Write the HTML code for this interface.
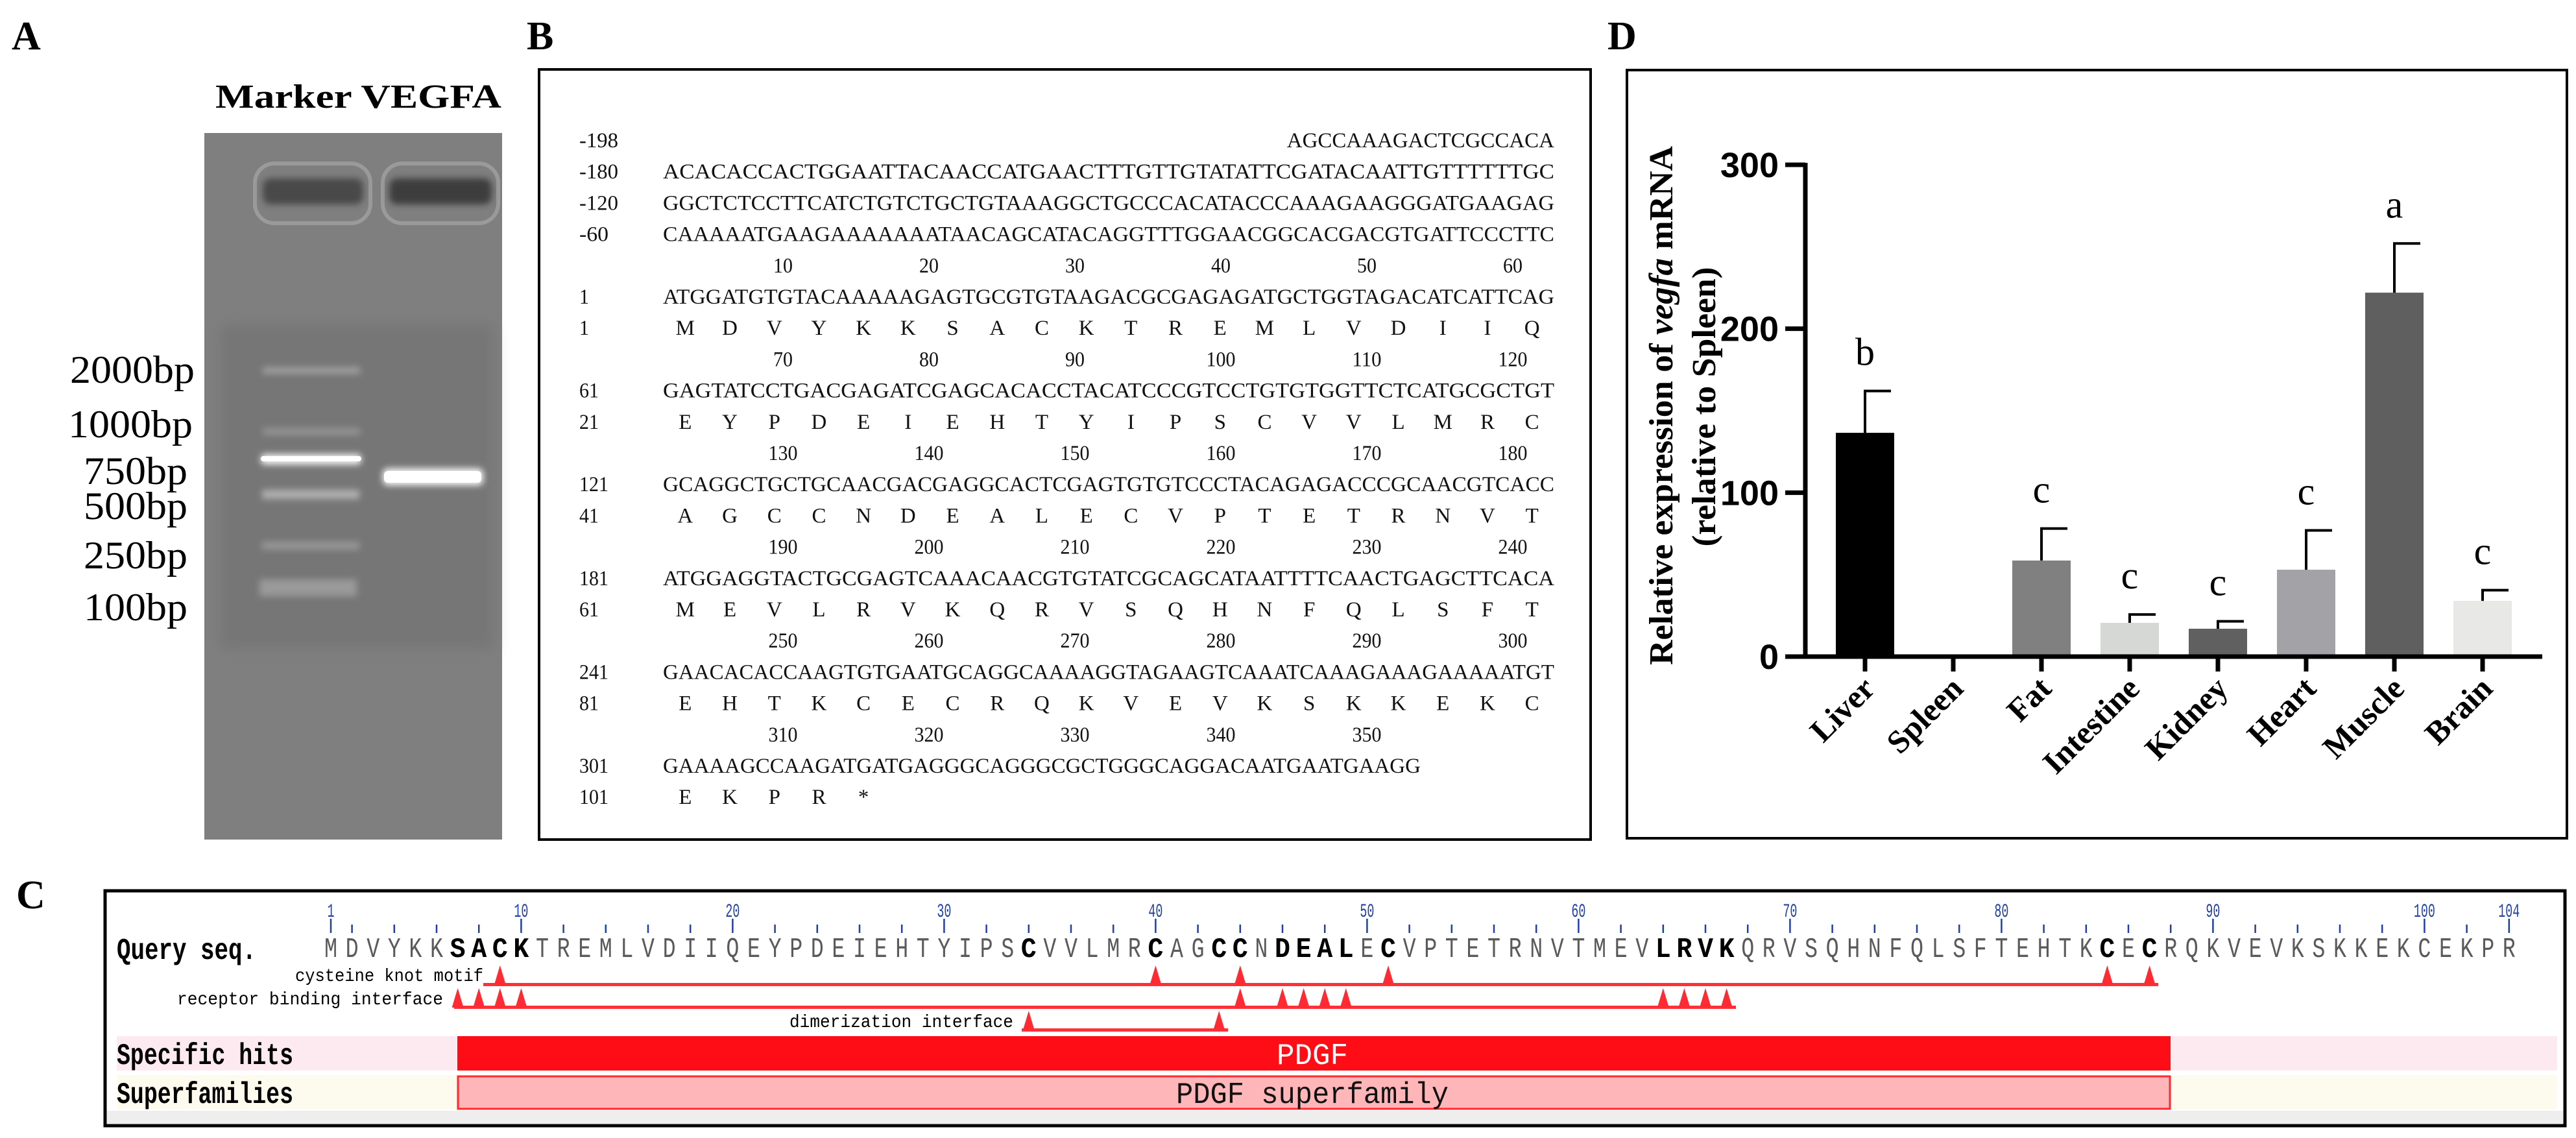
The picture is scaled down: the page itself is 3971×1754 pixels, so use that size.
<!DOCTYPE html>
<html><head><meta charset="utf-8">
<style>
html,body{margin:0;padding:0;background:#fff;}
svg{display:block;}
.serif{font-family:"Liberation Serif",serif;}
.mono{font-family:"Liberation Mono",monospace;}
.sans{font-family:"Liberation Sans",sans-serif;}
</style></head>
<body>
<svg id="fig" xmlns="http://www.w3.org/2000/svg" width="3971" height="1754" viewBox="0 0 3971 1754">
<defs>
<filter id="glow" x="-20%" y="-100%" width="140%" height="300%"><feGaussianBlur stdDeviation="5"/></filter>
<filter id="blur2"><feGaussianBlur stdDeviation="10"/></filter>
</defs>
<rect width="3971" height="1754" fill="#fff"/>

<!-- Panel A -->
<g>
<text x="18" y="76" class="serif" font-size="62" font-weight="bold">A</text>
<text x="332" y="166" class="serif" font-size="52" font-weight="bold" textLength="441" lengthAdjust="spacingAndGlyphs">Marker VEGFA</text>
<g>
<rect x="315" y="205" width="459" height="1089" fill="#7f7f7f"/>
<rect x="340" y="500" width="420" height="500" fill="#767676" filter="url(#blur2)"/>
<rect x="393" y="252" width="178" height="92" rx="30" fill="none" stroke="#9a9a9a" stroke-width="6"/>
<rect x="405" y="275" width="155" height="40" rx="12" fill="#4a4a4a" filter="url(#glow)"/>
<rect x="590" y="252" width="178" height="92" rx="30" fill="none" stroke="#9a9a9a" stroke-width="6"/>
<rect x="600" y="275" width="158" height="40" rx="12" fill="#3e3e3e" filter="url(#glow)"/>
<rect x="405" y="566" width="150" height="10" fill="#a0a0a0" filter="url(#glow)"/>
<rect x="405" y="660" width="150" height="10" fill="#959595" filter="url(#glow)"/>
<rect x="402" y="700" width="155" height="16" rx="6" fill="#f4f4f4" filter="url(#glow)"/>
<rect x="402" y="703" width="155" height="8" rx="4" fill="#ffffff"/>
<rect x="404" y="755" width="150" height="14" fill="#b0b0b0" filter="url(#glow)"/>
<rect x="404" y="835" width="150" height="12" fill="#979797" filter="url(#glow)"/>
<rect x="400" y="893" width="150" height="26" fill="#9a9a9a" filter="url(#glow)"/>
<rect x="590" y="722" width="155" height="26" rx="8" fill="#f8f8f8" filter="url(#glow)"/>
<rect x="592" y="726" width="150" height="18" rx="6" fill="#ffffff"/>
</g>
<g class="serif" font-size="60" text-anchor="end">
<text x="300" y="590" textLength="192" lengthAdjust="spacingAndGlyphs">2000bp</text>
<text x="297" y="674" textLength="192" lengthAdjust="spacingAndGlyphs">1000bp</text>
<text x="289" y="746" textLength="160" lengthAdjust="spacingAndGlyphs">750bp</text>
<text x="289" y="800" textLength="160" lengthAdjust="spacingAndGlyphs">500bp</text>
<text x="289" y="876" textLength="160" lengthAdjust="spacingAndGlyphs">250bp</text>
<text x="289" y="956" textLength="160" lengthAdjust="spacingAndGlyphs">100bp</text>
</g>
</g>

<!-- Panel B -->
<g>
<text x="812" y="76" class="serif" font-size="62" font-weight="bold">B</text>
<rect x="831" y="107" width="1621" height="1187" fill="#fff" stroke="#000" stroke-width="4"/>
<g id="seqB" class="serif" font-size="33" fill="#111"></g>
</g>

<!-- Panel C -->
<g>
<text x="25" y="1400" class="serif" font-size="62" font-weight="bold">C</text>
<rect x="162" y="1373" width="3792" height="362" fill="#fff" stroke="#000" stroke-width="5"/>
<rect x="165" y="1712" width="3786" height="20" fill="#eeeeee"/>
<rect x="180" y="1597" width="3762" height="53" fill="#fdeaf1"/>
<rect x="180" y="1657" width="3762" height="53" fill="#fdfaee"/>
<g id="seqC"></g>
<text x="180" y="1478" class="mono" font-size="46" font-weight="bold" textLength="215" lengthAdjust="spacingAndGlyphs">Query seq.</text>
<text x="180" y="1640" class="mono" font-size="46" font-weight="bold" textLength="272" lengthAdjust="spacingAndGlyphs">Specific hits</text>
<text x="180" y="1700" class="mono" font-size="46" font-weight="bold" textLength="272" lengthAdjust="spacingAndGlyphs">Superfamilies</text>
<text x="745" y="1512" class="mono" font-size="28" text-anchor="end" textLength="290" lengthAdjust="spacingAndGlyphs">cysteine knot motif</text>
<text x="683" y="1548" class="mono" font-size="28" text-anchor="end" textLength="410" lengthAdjust="spacingAndGlyphs">receptor binding interface</text>
<text x="1562" y="1583" class="mono" font-size="28" text-anchor="end" textLength="345" lengthAdjust="spacingAndGlyphs">dimerization interface</text>
<rect x="705" y="1597" width="2641" height="53" fill="#ff0d17"/>
<text x="2023" y="1640" class="mono" font-size="46" fill="#fff" text-anchor="middle" textLength="110" lengthAdjust="spacingAndGlyphs">PDGF</text>
<rect x="706" y="1659" width="2639" height="50" fill="#ffb6b8" stroke="#ff2a30" stroke-width="3"/>
<text x="2023" y="1700" class="mono" font-size="46" fill="#111" text-anchor="middle" textLength="420" lengthAdjust="spacingAndGlyphs">PDGF superfamily</text>
</g>

<!-- Panel D -->
<g>
<text x="2478" y="76" class="serif" font-size="62" font-weight="bold">D</text>
<rect x="2508" y="108" width="1449" height="1184" fill="#fff" stroke="#000" stroke-width="4"/>
<g id="chartD"></g>
</g>
</svg>

<script>
// ---------- Panel D chart data ----------
const categories = ["Liver","Spleen","Fat","Intestine","Kidney","Heart","Muscle","Brain"];
const meanValues = [136.5, 1, 58.6, 20.6, 17, 53, 222, 34];
const errorValues = [25.5, 0, 19.5, 5.1, 4.5, 24, 30, 6.5];
const sigLetters = ["b","","c","c","c","c","a","c"];
const barColors = ["#000000","#444444","#808080","#d5d8d5","#606060","#a3a2a6","#5f5f5f","#e8e8e6"];
const yTicks = [0, 100, 200, 300];

const NS = "http://www.w3.org/2000/svg";
function mk(tag, attrs, parent){
  const e = document.createElementNS(NS, tag);
  for (const k in attrs) e.setAttribute(k, attrs[k]);
  if (parent) parent.appendChild(e);
  return e;
}

(function(){
  const g = document.getElementById("chartD");
  const x0 = 2783, x1 = 3919, yBase = 1012, yTop = 254, yMax = 300;
  const yScale = v => yBase - (v / yMax) * (yBase - yTop);
  const step = 136, first = 2875;
  const xScale = i => first + i * step;
  const bw = 90;

  const ya = mk("line", {x1:x0, y1:yTop-3, x2:x0, y2:yBase+3, stroke:"#000", "stroke-width":7}, g);
  
  
  yTicks.forEach(t => {
    const y = yScale(t);
    const tk = mk("line", {x1:2752, y1:y, x2:x0, y2:y, stroke:"#000", "stroke-width":7}, g);
    
    
    const tl = mk("text", {x:2742, y:y+19, "text-anchor":"end", "font-size":54, "font-weight":"bold", "font-family":"Liberation Sans, sans-serif"}, g);
    tl.textContent = t;
    
    
  });

  categories.forEach((c, i) => {
    const cx = xScale(i);
    const top = yScale(meanValues[i]);
    const bar = mk("rect", {x:cx-bw/2, y:top, width:bw, height:Math.max(yBase-top,1), fill:barColors[i]}, g);
    
    
    if (errorValues[i] > 0) {
      const et = yScale(meanValues[i] + errorValues[i]);
      const el = mk("path", {d:`M${cx} ${top} V${et} M${cx-2} ${et} H${cx+40}`, stroke:"#000", "stroke-width":4, fill:"none"}, g);
      
      
    }
    if (sigLetters[i]) {
      const ly = yScale(meanValues[i] + errorValues[i]) - 40;
      const lt = mk("text", {x:cx, y:ly, "text-anchor":"middle", "font-size":60, "font-family":"Liberation Serif, serif"}, g);
      lt.textContent = sigLetters[i];
      
      
    }
    const xt = mk("line", {x1:cx, y1:yBase, x2:cx, y2:1035, stroke:"#000", "stroke-width":7}, g);
    
    
    const lx = cx + 18, ly2 = 1064;
    const xl = mk("text", {x:lx, y:ly2, "text-anchor":"end", "font-size":50, "font-weight":"bold", "font-family":"Liberation Serif, serif", transform:`rotate(-45 ${lx} ${ly2})`}, g);
    xl.textContent = c;
    
    
  });

  const xa = mk("line", {x1:2752, y1:yBase, x2:x1, y2:yBase, stroke:"#000", "stroke-width":7}, g);
  
  

  const t1 = mk("text", {x:0, y:0, "text-anchor":"middle", "font-size":52, "font-weight":"bold", "font-family":"Liberation Serif, serif", transform:"translate(2578 625) rotate(-90)", textLength:800, lengthAdjust:"spacingAndGlyphs"}, g);
  t1.innerHTML = 'Relative expression of <tspan font-style="italic">vegfa</tspan> mRNA';
  
  
  const t2 = mk("text", {x:0, y:0, "text-anchor":"middle", "font-size":52, "font-weight":"bold", "font-family":"Liberation Serif, serif", transform:"translate(2644 627) rotate(-90)", textLength:431, lengthAdjust:"spacingAndGlyphs"}, g);
  t2.textContent = "(relative to Spleen)";
  
  
})();

// ---------- Panel B sequence ----------
(function(){
  const g = document.getElementById("seqB");
  const start = 1022, cw = 22.9, numX = 893, y0 = 215, dy = 48.2;
  const rows = [
    ["n","-198","AGCCAAAGACTCGCCACA"],
    ["n","-180","ACACACCACTGGAATTACAACCATGAACTTTGTTGTATATTCGATACAATTGTTTTTTGC"],
    ["n","-120","GGCTCTCCTTCATCTGTCTGCTGTAAAGGCTGCCCACATACCCAAAGAAGGGATGAAGAG"],
    ["n","-60","CAAAAATGAAGAAAAAAATAACAGCATACAGGTTTGGAACGGCACGACGTGATTCCCTTC"],
    ["h",["10","20","30","40","50","60"]],
    ["n","1","ATGGATGTGTACAAAAAGAGTGCGTGTAAGACGCGAGAGATGCTGGTAGACATCATTCAG"],
    ["a","1","MDVYKKSACKTREMLVDIIQ"],
    ["h",["70","80","90","100","110","120"]],
    ["n","61","GAGTATCCTGACGAGATCGAGCACACCTACATCCCGTCCTGTGTGGTTCTCATGCGCTGT"],
    ["a","21","EYPDEIEHTYIPSCVVLMRC"],
    ["h",["130","140","150","160","170","180"]],
    ["n","121","GCAGGCTGCTGCAACGACGAGGCACTCGAGTGTGTCCCTACAGAGACCCGCAACGTCACC"],
    ["a","41","AGCCNDEALECVPTETRNVT"],
    ["h",["190","200","210","220","230","240"]],
    ["n","181","ATGGAGGTACTGCGAGTCAAACAACGTGTATCGCAGCATAATTTTCAACTGAGCTTCACA"],
    ["a","61","MEVLRVKQRVSQHNFQLSFT"],
    ["h",["250","260","270","280","290","300"]],
    ["n","241","GAACACACCAAGTGTGAATGCAGGCAAAAGGTAGAAGTCAAATCAAAGAAAGAAAAATGT"],
    ["a","81","EHTKCECRQKVEVKSKKEKC"],
    ["h",["310","320","330","340","350"]],
    ["n","301","GAAAAGCCAAGATGATGAGGGCAGGGCGCTGGGCAGGACAATGAATGAAGG"],
    ["a","101","EKPR*"]
  ];
  rows.forEach((r, k) => {
    const y = y0 + dy * k + 12;
    if (r[0] === "h") {
      r[1].forEach((lab, j) => {
        const t = mk("text", {x:1207 + j*225, y:y, "text-anchor":"middle", textLength:lab.length*15, lengthAdjust:"spacingAndGlyphs"}, g);
        t.textContent = lab;
        
        
      });
      return;
    }
    const num = mk("text", {x:numX, y:y, textLength:r[1].length*15, lengthAdjust:"spacingAndGlyphs"}, g);
    num.textContent = r[1];
    
    
    if (r[0] === "n") {
      const s = r[2];
      const sx = (s.length < 30) ? start + (60 - s.length) * cw : start;
      const t = mk("text", {x:sx, y:y, textLength:s.length*cw, lengthAdjust:"spacingAndGlyphs"}, g);
      t.textContent = s;
      
      
    } else {
      const s = r[2];
      for (let i = 0; i < s.length; i++) {
        const t = mk("text", {x:start + (3*i + 1.5)*cw, y:y, "text-anchor":"middle"}, g);
        t.textContent = s[i];
        
        
      }
    }
  });
})();

// ---------- Panel C domain diagram ----------
(function(){
  const g = document.getElementById("seqC");
  const seq = "MDVYKKSACKTREMLVDIIQEYPDEIEHTYIPSCVVLMRCAGCCNDEALECVPTETRNVTMEVLRVKQRVSQHNFQLSFTEHTKCECRQKVEVKSKKEKCEKPR";
  const bold = [7,8,9,10,34,40,43,44,46,47,48,49,51,64,65,66,67,85,87];
  const rx = i => 510 + (i - 1) * 32.6;
  for (let i = 1; i <= seq.length; i++) {
    const b = bold.includes(i);
    const t = mk("text", {x:rx(i), y:1475, "text-anchor":"middle", "font-size":44, "font-family":"Liberation Mono, monospace", "font-weight":b?"bold":"normal", fill:b?"#000":"#5a5a5a", textLength:b?24:20, lengthAdjust:"spacingAndGlyphs"}, g);
    t.textContent = seq[i-1];
    
    
    const tall = (i === 1 || i % 10 === 0 || i === 104);
    if (tall || i % 2 === 0) {
      const tk = mk("line", {x1:rx(i), y1:tall?1416:1425, x2:rx(i), y2:1438, stroke:"#1f3fa8", "stroke-width":2.5}, g);
      
      
    }
    if (tall) {
      const nl = mk("text", {x:rx(i), y:1413, "text-anchor":"middle", "font-size":30, "font-family":"Liberation Mono, monospace", fill:"#1f3fa8", textLength:String(i).length*11, lengthAdjust:"spacingAndGlyphs"}, g);
      nl.textContent = i;
      
      
    }
  }
  const tracks = [
    {y:1518, from:745, to:3327, sites:[9,40,44,51,85,87], name:'cysteine-knot-track'},
    {y:1553, from:700, to:2676, sites:[7,8,9,10,44,46,47,48,49,64,65,66,67], name:'receptor-binding-track'},
    {y:1588, from:1575, to:1893, sites:[34,43], name:'dimerization-track'}
  ];
  tracks.forEach(tr => {
    const ln = mk("rect", {x:tr.from, y:tr.y-3, width:tr.to-tr.from, height:5, fill:"#ff3038"}, g);
    
    
    tr.sites.forEach(s => {
      const x = rx(s);
      const tri = mk("polygon", {points:`${x-9},${tr.y} ${x},${tr.y-30} ${x+9},${tr.y}`, fill:"#ff2a32"}, g);
      
      
    });
  });
})();
</script>
</body></html>
